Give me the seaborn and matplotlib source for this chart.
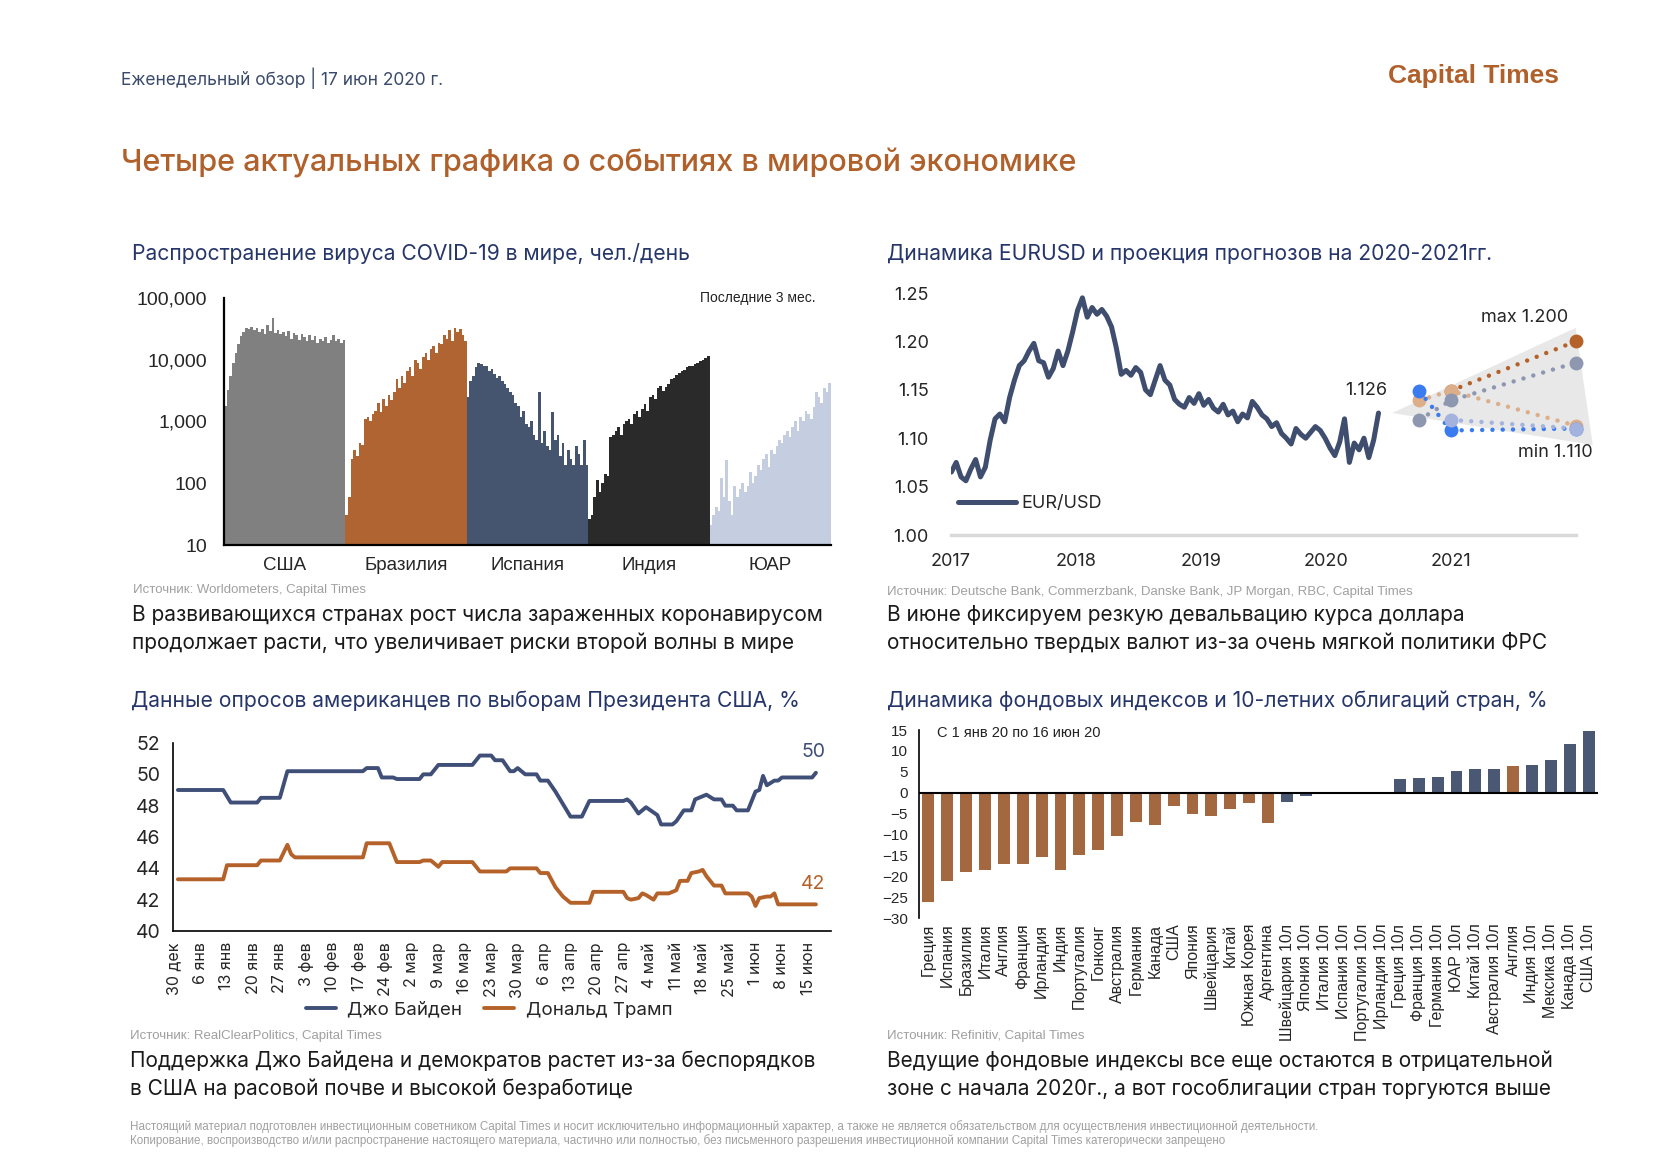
import numpy as np
import pandas as pd
import matplotlib
matplotlib.use("Agg")
import matplotlib.pyplot as plt
import matplotlib.ticker as mticker
import matplotlib.dates as mdates
import seaborn as sns

W, H = 1680, 1162

# ---------------- chart 1: COVID-19 daily cases, last 3 months (every 2nd day)
countries = ["США", "Бразилия", "Испания", "Индия", "ЮАР"]
cases_usa = [1800, 3200, 5500, 9000, 13000, 18000, 24000, 28000, 33000, 31000, 34000, 30000,
             33000, 28000, 32000, 26000, 36000, 29000, 48000, 27000, 30000, 26000, 28000, 24000,
             29000, 22000, 27000, 25000, 21000, 26000, 23000, 20000, 25000, 21000, 24000, 19000,
             22000, 20000, 23000, 19000, 21000, 25000, 20000, 22000, 19000, 21000]
cases_brazil = [30, 60, 250, 350, 280, 450, 420, 1100, 1200, 1000, 1300, 1500, 2000, 1400, 2300,
                1800, 2700, 2200, 3000, 4800, 3500, 5500, 4200, 6500, 7500, 5500, 10000, 9000, 7000,
                11000, 13000, 10000, 15000, 17000, 13000, 19000, 18000, 25000, 22000, 30000, 20000,
                33000, 28000, 31000, 25000, 20000]
cases_spain = [2500, 4500, 5500, 7500, 9000, 8500, 7800, 8000, 6500, 7000, 5800, 5000, 5500, 4500,
               4000, 3500, 3000, 2700, 2000, 1800, 1200, 1500, 900, 800, 1000, 600, 500, 3000, 450,
               700, 400, 350, 1400, 500, 600, 280, 450, 200, 350, 250, 200, 400, 300, 200, 500, 200]
cases_india = [25, 30, 60, 110, 70, 100, 140, 130, 550, 600, 700, 800, 600, 900, 1000, 1100, 900,
               1300, 1500, 1200, 1600, 1900, 1500, 2500, 2700, 2300, 3500, 3800, 3100, 3600, 4000,
               4800, 5000, 5600, 6000, 6500, 6800, 7500, 7800, 8000, 8500, 9000, 9500, 10000,
               10500, 11500]
cases_sa = [20, 30, 40, 35, 120, 60, 240, 50, 30, 90, 60, 80, 100, 70, 90, 150, 100, 130, 200,
            160, 250, 300, 180, 350, 300, 400, 500, 450, 600, 700, 550, 800, 1000, 700, 1200, 1000,
            1500, 1300, 1100, 1700, 3000, 2500, 2000, 3500, 3000, 4200]
country_colors = ["#808080", "#b06431", "#45546f", "#2a2a2a", "#c5cee0"]

# ---------------- chart 2: EUR/USD (fortnightly) and forecasts
eur_start, eur_end = "2017-01-02", "2020-06-03"
eurusd = [1.065, 1.075, 1.060, 1.056, 1.068, 1.078, 1.060, 1.070, 1.098, 1.120, 1.125, 1.117,
          1.142, 1.160, 1.175, 1.180, 1.190, 1.198, 1.180, 1.178, 1.163, 1.172, 1.190, 1.175,
          1.190, 1.210, 1.232, 1.245, 1.225, 1.235, 1.228, 1.233, 1.226, 1.215, 1.193, 1.166,
          1.170, 1.165, 1.173, 1.168, 1.150, 1.145, 1.160, 1.175, 1.160, 1.155, 1.140, 1.135,
          1.132, 1.142, 1.136, 1.146, 1.134, 1.140, 1.131, 1.127, 1.135, 1.124, 1.128, 1.117,
          1.125, 1.121, 1.138, 1.132, 1.124, 1.120, 1.112, 1.116, 1.105, 1.100, 1.094, 1.110,
          1.104, 1.100, 1.106, 1.112, 1.108, 1.100, 1.090, 1.082, 1.096, 1.120, 1.075, 1.095,
          1.088, 1.100, 1.080, 1.098, 1.126]
fc_dates = ["2020-09-30", "2020-12-31", "2021-12-31"]
fc_orange = [None, 1.149, 1.200]
fc_tan = [1.139, 1.149, 1.113]
fc_gray = [1.119, 1.139, 1.178]
fc_blue = [1.149, 1.108, 1.110]
fc_lavender = [None, 1.119, 1.110]
fc_colors = ["#b5622a", "#dcae8a", "#8d97b0", "#3a7bf0", "#a4b2de"]

# ---------------- chart 3: RCP polls (days since 30 Dec 2019)
poll_start = "2019-12-30"
biden_days = [1, 13, 15, 22, 23, 28, 30, 50, 51, 54, 55, 58, 59, 65, 66, 68, 70, 79, 81, 84, 85,
              87, 89, 90, 91, 93, 96, 97, 99, 101, 103, 105, 108, 110, 119, 120, 121, 123, 125,
              128, 129, 132, 133, 135, 137, 138, 140, 141, 143, 145, 146, 148, 149, 152, 154,
              155, 156, 157, 159, 160, 161, 169, 170]
biden_vals = [49.0, 49.0, 48.2, 48.2, 48.5, 48.5, 50.2, 50.2, 50.4, 50.4, 49.8, 49.8, 49.7, 49.7,
              50.0, 50.0, 50.6, 50.6, 51.2, 51.2, 50.9, 50.9, 50.2, 50.2, 50.4, 50.0, 50.0, 49.6,
              49.6, 48.9, 48.1, 47.3, 47.3, 48.3, 48.3, 48.4, 48.2, 47.5, 47.9, 47.4, 46.8, 46.8,
              47.0, 47.7, 47.7, 48.4, 48.6, 48.7, 48.4, 48.4, 48.0, 48.0, 47.7, 47.7, 48.9, 49.0,
              49.9, 49.3, 49.6, 49.6, 49.8, 49.8, 50.1]
trump_days = [1, 13, 14, 22, 23, 28, 30, 31, 32, 50, 51, 57, 59, 65, 66, 68, 70, 71, 79, 81, 88,
              89, 96, 97, 99, 101, 103, 105, 110, 111, 119, 120, 121, 123, 124, 125, 127, 128,
              131, 133, 134, 136, 137, 139, 140, 141, 143, 145, 146, 152, 153, 154, 155, 157,
              158, 159, 160, 170]
trump_vals = [43.3, 43.3, 44.2, 44.2, 44.5, 44.5, 45.5, 44.9, 44.7, 44.7, 45.6, 45.6, 44.4, 44.4,
              44.5, 44.5, 44.1, 44.4, 44.4, 43.8, 43.8, 44.0, 44.0, 43.7, 43.7, 42.8, 42.2, 41.8,
              41.8, 42.5, 42.5, 42.1, 42.0, 42.1, 42.4, 42.3, 42.0, 42.4, 42.4, 42.6, 43.2, 43.2,
              43.7, 43.8, 43.9, 43.5, 42.9, 42.9, 42.4, 42.4, 42.2, 41.6, 42.1, 42.2, 42.2, 42.4,
              41.7, 41.7]
candidates = ["Джо Байден", "Дональд Трамп"]
candidate_colors = ["#3f4f78", "#b5622a"]
ru_months = {1: "янв", 2: "фев", 3: "мар", 4: "апр", 5: "май", 6: "июн", 12: "дек"}

# ---------------- chart 4: indices and 10y bonds, % since 1 Jan 2020
assets = ["Греция", "Испания", "Бразилия", "Италия", "Англия", "Франция", "Ирландия", "Индия",
          "Португалия", "Гонконг", "Австралия", "Германия", "Канада", "США", "Япония",
          "Швейцария", "Китай", "Южная Корея", "Аргентина", "Швейцария 10л", "Япония 10л",
          "Италия 10л", "Испания 10л", "Португалия 10л", "Ирландия 10л", "Греция 10л",
          "Франция 10л", "Германия 10л", "ЮАР 10л", "Китай 10л", "Австралия 10л", "Англия",
          "Индия 10л", "Мексика 10л", "Канада 10л", "США 10л"]
returns = [-26.1, -21.1, -19.0, -18.5, -17.1, -17.1, -15.3, -18.5, -14.9, -13.7, -10.4, -7.0,
           -7.7, -3.3, -5.2, -5.5, -3.8, -2.5, -7.2, -2.2, -0.8, 0.0, 0.0, 0.0, 0.0, 3.3, 3.5,
           3.7, 5.3, 5.6, 5.7, 6.3, 6.7, 7.7, 11.7, 14.8]
asset_kind = ["индекс"] * 19 + ["облигации"] * 12 + ["индекс"] + ["облигации"] * 4
kind_colors = {"индекс": "#b5652f", "облигации": "#44557a"}

NAVY = "#26366a"
ORANGE = "#b0612b"
GREY = "#a0a0a0"
ARIAL = ["Liberation Sans", "DejaVu Sans"]
NARROW = ["Liberation Sans Narrow", "Liberation Sans", "DejaVu Sans"]

sns.set_style("white")
plt.rcParams["font.family"] = ["Inter", "DejaVu Sans"]

fig = plt.figure(figsize=(W / 100, H / 100), dpi=100)


def fx(x):
    return x / W


def fy(y):
    return 1 - y / H


def rect(left, top, right, bottom):
    return [fx(left), fy(bottom), (right - left) / W, (bottom - top) / H]


def ptext(x, y, s, **kw):
    kw.setdefault("va", "center")
    fig.text(fx(x), fy(y), s, **kw)


# ---------------- page texts
ptext(121, 78, "Еженедельный обзор | 17 июн 2020 г.", fontsize=12.5, color="#3b4a6b")
ptext(1559, 76, "Capital Times", fontsize=19, color=ORANGE, ha="right",
      fontweight="bold", family=ARIAL)
ptext(121, 163, "Четыре актуальных графика о событиях в мировой экономике",
      fontsize=22, color=ORANGE, fontweight="medium")

ptext(132, 254, "Распространение вируса COVID-19 в мире, чел./день", fontsize=15.2, color=NAVY)
ptext(887, 254, "Динамика EURUSD и проекция прогнозов на 2020-2021гг.", fontsize=15.2, color=NAVY)
ptext(131, 701, "Данные опросов американцев по выборам Президента США, %", fontsize=15.2, color=NAVY)
ptext(887, 701, "Динамика фондовых индексов и 10-летних облигаций стран, %", fontsize=15.2, color=NAVY)

src = dict(fontsize=9.5, color=GREY, family=NARROW)
ptext(133, 590, "Источник: Worldometers, Capital Times", **src)
ptext(887, 592, "Источник: Deutsche Bank, Commerzbank, Danske Bank, JP Morgan, RBC, Capital Times",
      **src)
ptext(130, 1036, "Источник: RealClearPolitics, Capital Times", **src)
ptext(887, 1036, "Источник: Refinitiv, Capital Times", **src)

body = dict(fontsize=15, color="#1a1a1a", va="center", linespacing=1.45)
ptext(132, 629, "В развивающихся странах рост числа зараженных коронавирусом\n"
      "продолжает расти, что увеличивает риски второй волны в мире", **body)
ptext(887, 629, "В июне фиксируем резкую девальвацию курса доллара\n"
      "относительно твердых валют из-за очень мягкой политики ФРС", **body)
ptext(130, 1075, "Поддержка Джо Байдена и демократов растет из-за беспорядков\n"
      "в США на расовой почве и высокой безработице", **body)
ptext(887, 1075, "Ведущие фондовые индексы все еще остаются в отрицательной\n"
      "зоне с начала 2020г., а вот гособлигации стран торгуются выше", **body)

foot = dict(fontsize=8.4, color=GREY, family=NARROW)
ptext(130, 1127, "Настоящий материал подготовлен инвестиционным советником Capital Times и носит "
      "исключительно информационный характер, а также не является обязательством для "
      "осуществления инвестиционной деятельности.", **foot)
ptext(130, 1141, "Копирование, воспроизводство и/или распространение настоящего материала, частично "
      "или полностью, без письменного разрешения инвестиционной компании Capital Times "
      "категорически запрещено", **foot)

# ---------------- chart 1
ax1 = fig.add_axes(rect(224, 298, 831, 545))
case_series = [cases_usa, cases_brazil, cases_spain, cases_india, cases_sa]
offset = 0
centers = []
for vals, col in zip(case_series, country_colors):
    xs = np.arange(len(vals)) + offset
    ax1.bar(xs, vals, width=1.0, bottom=1, color=col, linewidth=0, align="edge")
    centers.append(offset + len(vals) / 2)
    offset += len(vals)
ax1.set_yscale("log")
ax1.set_ylim(10, 100000)
ax1.set_xlim(0, offset)
ax1.yaxis.set_major_locator(mticker.FixedLocator([10, 100, 1000, 10000, 100000]))
ax1.yaxis.set_major_formatter(mticker.FuncFormatter(lambda v, p: f"{int(round(v)):,}"))
ax1.yaxis.set_minor_locator(mticker.NullLocator())
ax1.set_xticks(centers)
ax1.set_xticklabels(countries)
for s in ["top", "right"]:
    ax1.spines[s].set_visible(False)
for s in ["left", "bottom"]:
    ax1.spines[s].set_color("black")
    ax1.spines[s].set_linewidth(1.6)
ax1.tick_params(axis="y", direction="out", length=7, width=1.3, labelsize=14, pad=5)
ax1.tick_params(axis="x", length=0, labelsize=13.5, pad=9)
for lab in ax1.get_xticklabels() + ax1.get_yticklabels():
    lab.set_family(ARIAL)
ax1.text(0.975, 1.0, "Последние 3 мес.", transform=ax1.transAxes, ha="right", va="center",
         fontsize=10, family=ARIAL, color="#222222")

# ---------------- chart 2
ax2 = fig.add_axes(rect(951, 293, 1576, 535))
eur_df = pd.DataFrame({"date": pd.date_range(eur_start, eur_end, periods=len(eurusd)),
                       "rate": eurusd})
fc_df = pd.DataFrame({"date": pd.to_datetime(fc_dates), "orange": fc_orange, "tan": fc_tan,
                      "gray": fc_gray, "blue": fc_blue, "lavender": fc_lavender})
fc_cols = ["orange", "tan", "gray", "blue", "lavender"]

# forecast fan
last_date, last_val = eur_df["date"].iloc[-1], eur_df["rate"].iloc[-1]
end_date = fc_df["date"].iloc[-1]
fc_max = fc_df[fc_cols].iloc[-1].max()
fc_min = fc_df[fc_cols].iloc[-1].min()
fan_x = mdates.date2num([last_date + pd.Timedelta(days=40), end_date,
                         end_date + pd.Timedelta(days=50)])
fan_y = [last_val, fc_max + 0.014, fc_min - 0.017]
ax2.fill(fan_x, fan_y, color="#e8e8e8", lw=0, zorder=1, clip_on=False)

sns.lineplot(data=eur_df, x="date", y="rate", ax=ax2, color="#3f4d6e", lw=3.6,
             label="EUR/USD", zorder=3)
for col, c in zip(fc_cols, fc_colors):
    sub = fc_df[["date", col]].dropna()
    ax2.plot(sub["date"], sub[col], color=c, lw=3.2, linestyle=(0, (0.01, 2.3)),
             dash_capstyle="round", marker="o", markersize=9, zorder=4, clip_on=False)

ax2.annotate(f"{last_val:.3f}", xy=(last_date, last_val), xytext=(-9, 16),
             textcoords="offset points", ha="center", va="center", fontsize=13)
ax2.annotate(f"max {fc_max:.3f}", xy=(end_date, fc_max), xytext=(-37, 17),
             textcoords="offset points", ha="center", va="center", fontsize=13)
ax2.annotate(f"min {fc_min:.3f}", xy=(end_date, fc_min), xytext=(-15, -17),
             textcoords="offset points", ha="center", va="center", fontsize=13)

ax2.set_xlim(pd.Timestamp("2017-01-01"), pd.Timestamp("2022-01-01"))
ax2.set_ylim(1.0, 1.25)
ax2.set_yticks(np.arange(1.0, 1.2501, 0.05))
ax2.yaxis.set_major_formatter(mticker.FormatStrFormatter("%.2f"))
ax2.set_xticks(pd.date_range("2017-01-01", "2021-01-01", freq="YS"))
ax2.xaxis.set_major_formatter(mdates.DateFormatter("%Y"))
ax2.set_xlabel("")
ax2.set_ylabel("")
for s in ["top", "right", "left"]:
    ax2.spines[s].set_visible(False)
ax2.spines["bottom"].set_color("#d9d9d9")
ax2.spines["bottom"].set_linewidth(2.5)
ax2.tick_params(axis="both", length=0, labelsize=13)
ax2.tick_params(axis="y", pad=16)
ax2.tick_params(axis="x", pad=13)
ax2.legend(loc="center left", bbox_to_anchor=(0.0, 0.13), frameon=False, fontsize=13,
           handlelength=3.2, handletextpad=0.3, borderaxespad=0)

# ---------------- chart 3
ax3 = fig.add_axes(rect(173, 743, 831, 931))
t0 = pd.Timestamp(poll_start)
poll_df = pd.concat([
    pd.DataFrame({"date": t0 + pd.to_timedelta(biden_days, "D"), "value": biden_vals,
                  "candidate": candidates[0]}),
    pd.DataFrame({"date": t0 + pd.to_timedelta(trump_days, "D"), "value": trump_vals,
                  "candidate": candidates[1]}),
], ignore_index=True)
sns.lineplot(data=poll_df, x="date", y="value", hue="candidate", hue_order=candidates,
             palette=candidate_colors, lw=2.8, estimator=None, ax=ax3)
for vals, days, c in [(biden_vals, biden_days, candidate_colors[0]),
                      (trump_vals, trump_days, candidate_colors[1])]:
    ax3.annotate(f"{round(vals[-1])}", xy=(t0 + pd.Timedelta(days=days[-1]), vals[-1]),
                 xytext=(-2, 15), textcoords="offset points", ha="center", va="center",
                 fontsize=14, color=c)
week_ticks = pd.date_range(poll_start, "2020-06-15", freq="7D")
ax3.set_xticks(week_ticks)
ax3.set_xticklabels([f"{d.day} {ru_months[d.month]}" for d in week_ticks], rotation=90)
ax3.set_xlim(t0 - pd.Timedelta(days=0.3), pd.Timestamp("2020-06-21"))
ax3.set_ylim(40, 52)
ax3.set_yticks(range(40, 53, 2))
ax3.set_xlabel("")
ax3.set_ylabel("")
for s in ["top", "right"]:
    ax3.spines[s].set_visible(False)
for s in ["left", "bottom"]:
    ax3.spines[s].set_color("black")
    ax3.spines[s].set_linewidth(1.2)
ax3.tick_params(axis="y", direction="out", length=5, width=1.1, labelsize=14, pad=4)
ax3.tick_params(axis="x", direction="out", length=5, width=1.1, labelsize=11.5, pad=3)
ax3.legend(loc="center", bbox_to_anchor=(0.48, -0.42), ncol=2, frameon=False, fontsize=13.5,
           handlelength=1.6, handletextpad=0.6, columnspacing=1.2)

# ---------------- chart 4
ax4 = fig.add_axes(rect(919, 730, 1598, 918))
bar_df = pd.DataFrame({"pos": range(len(assets)), "ret": returns, "kind": asset_kind})
sns.barplot(data=bar_df, x="pos", y="ret", hue="kind", palette=kind_colors, dodge=False,
            width=0.63, linewidth=0, legend=False, ax=ax4)
ax4.axhline(0, color="black", lw=1.5, zorder=5)
ax4.set_xlim(-0.5, len(assets) - 0.5)
ax4.set_ylim(-30, 15)
ax4.set_yticks(range(-30, 16, 5))
ax4.set_xticks(range(len(assets)))
ax4.set_xticklabels(assets, rotation=90)
ax4.set_xlabel("")
ax4.set_ylabel("")
for s in ["top", "right", "bottom"]:
    ax4.spines[s].set_visible(False)
ax4.spines["left"].set_color("black")
ax4.spines["left"].set_linewidth(1.2)
ax4.tick_params(axis="y", direction="out", length=5, width=1.1, labelsize=11, pad=3)
ax4.tick_params(axis="x", length=0, labelsize=11.5, pad=4)
for lab in ax4.get_xticklabels() + ax4.get_yticklabels():
    lab.set_family(ARIAL)
ax4.text(0.027, 0.985, "С 1 янв 20 по 16 июн 20", transform=ax4.transAxes, ha="left",
         va="center", fontsize=10.5, family=ARIAL, color="#222222")

fig.savefig("out.png", dpi=100)
